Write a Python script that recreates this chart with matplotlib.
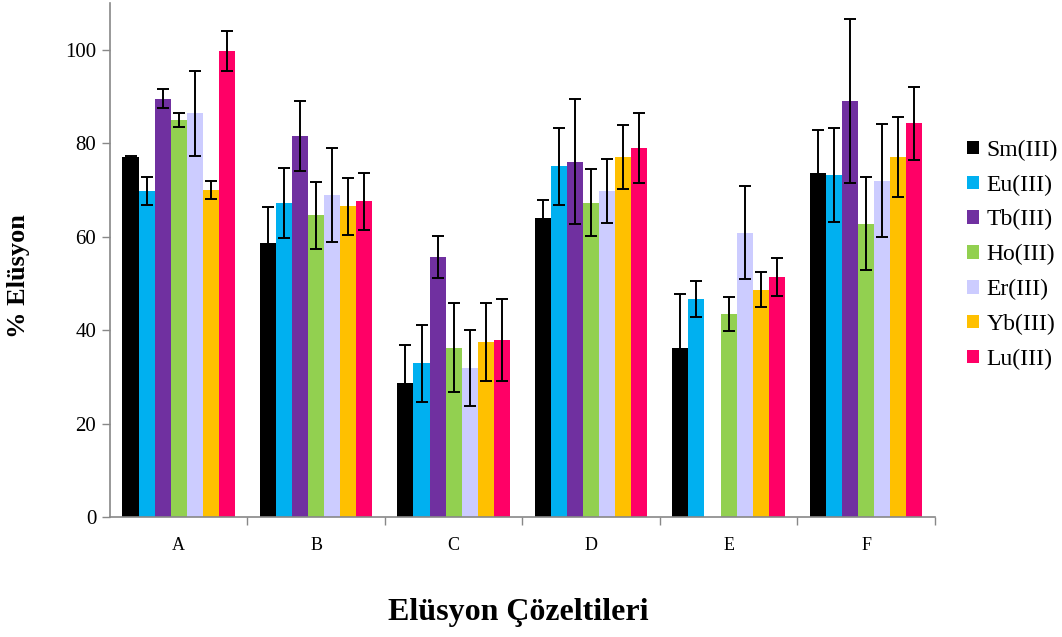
import numpy as np
import matplotlib

matplotlib.use("Agg")
import matplotlib.pyplot as plt
from matplotlib.ticker import FixedLocator, NullFormatter

plt.rcParams["font.family"] = ["Liberation Serif", "DejaVu Serif"]

solutions = ["A", "B", "C", "D", "E", "F"]
ions = ["Sm(III)", "Eu(III)", "Tb(III)", "Ho(III)", "Er(III)", "Yb(III)", "Lu(III)"]
colors = ["#000000", "#00b0f0", "#7030a0", "#92d050", "#ccccff", "#ffc000", "#ff0066"]

# elution % per ion, one value per solution (A..F); NaN = not measured
sm = [77.0, 58.6, 28.7, 64.0, 36.3, 73.6]
eu = [69.9, 67.3, 32.9, 75.1, 46.7, 73.2]
tb = [89.6, 81.5, 55.6, 76.1, np.nan, 89.1]
ho = [84.9, 64.6, 36.3, 67.3, 43.5, 62.8]
er = [86.4, 69.0, 31.9, 69.8, 60.9, 72.0]
yb = [70.0, 66.5, 37.5, 77.1, 48.7, 77.1]
lu = [99.8, 67.6, 38.0, 79.1, 51.4, 84.3]

# standard deviations
sm_err = [0.3, 7.8, 8.2, 3.8, 11.5, 9.3]
eu_err = [3.0, 7.5, 8.2, 8.2, 3.8, 10.1]
tb_err = [2.0, 7.5, 4.5, 13.4, np.nan, 17.5]
ho_err = [1.5, 7.2, 9.6, 7.2, 3.7, 10.0]
er_err = [9.0, 10.0, 8.1, 6.9, 10.0, 12.1]
yb_err = [2.0, 6.0, 8.3, 6.8, 3.7, 8.6]
lu_err = [4.3, 6.1, 8.8, 7.5, 4.1, 7.8]

values = [sm, eu, tb, ho, er, yb, lu]
errors = [sm_err, eu_err, tb_err, ho_err, er_err, yb_err, lu_err]

fig = plt.figure(figsize=(10.62, 6.37), dpi=100)
ax = fig.add_axes([0.1036, 0.188, 0.7766, 0.807])

x = np.arange(len(solutions))
width = 0.117
n = len(ions)
for i, (label, vals, errs, c) in enumerate(zip(ions, values, errors, colors)):
    pos = x + (i - (n - 1) / 2) * width
    ax.bar(pos, vals, width, color=c, label=label, zorder=2)
    ax.errorbar(pos, vals, yerr=errs, fmt="none", ecolor="black",
                elinewidth=1.4, capsize=4.5, capthick=1.4, zorder=3)

ax.set_xlim(-0.5, len(solutions) - 0.5)
ax.set_ylim(0, 110)
ax.set_yticks([0, 20, 40, 60, 80, 100])
ax.set_xticks(x)
ax.set_xticklabels(solutions)
ax.xaxis.set_minor_locator(FixedLocator(np.arange(0.5, len(solutions), 1.0)))
ax.xaxis.set_minor_formatter(NullFormatter())
ax.tick_params(axis="x", which="major", length=0, labelsize=13, pad=14)
ax.tick_params(axis="x", which="minor", length=6, color="#888888", width=1)
ax.tick_params(axis="y", length=6, color="#888888", width=1, labelsize=15, pad=4)

for side in ["top", "right"]:
    ax.spines[side].set_visible(False)
for side in ["left", "bottom"]:
    ax.spines[side].set_color("#888888")
    ax.spines[side].set_linewidth(1.2)

ax.set_ylabel("% Elüsyon", fontsize=19, fontweight="bold")
ax.yaxis.set_label_coords(-0.097, 0.47)
fig.text(0.488, 0.038, "Elüsyon Çözeltileri", ha="center", va="center",
         fontsize=23, fontweight="bold")

fig.legend(loc="center left", bbox_to_anchor=(0.902, 0.600), frameon=False,
           fontsize=17, handlelength=0.5, handleheight=0.5, handletextpad=0.3,
           labelspacing=0.58, borderaxespad=0)

fig.savefig("out.png", dpi=100)
